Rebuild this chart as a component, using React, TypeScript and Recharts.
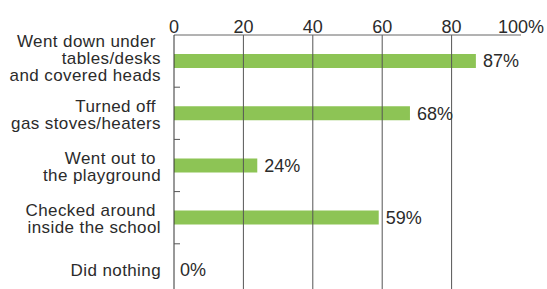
import { BarChart, Bar, XAxis, YAxis, ReferenceLine, ReferenceDot, LabelList } from "recharts";

const categories = [
  ["Went down under ", "tables/desks", "and covered heads"],
  ["Turned off ", "gas stoves/heaters"],
  ["Went out to ", "the playground"],
  ["Checked around ", "inside the school"],
  ["Did nothing"],
];
const values = [87, 68, 24, 59, 0];
const xTicks = [0, 20, 40, 60, 80, 100];
const gridLines = [20, 40, 60, 80];

const data = categories.map((lines, i) => ({ name: lines.join("|"), value: values[i] }));

const FONT = "'Liberation Sans', Arial, sans-serif";
const TEXT = "#2b2b2b";
const AXIS_X = 174;
const BAND = 52.2;
const LINE_H = 17;

function CategoryTick(props: any) {
  const { y, payload, index } = props;
  const lines: string[] = String(payload.value).split("|");
  const shift = lines.length === 3 ? -3.5 : lines.length === 2 ? 1 : 0;
  const top = y + shift - ((lines.length - 1) * LINE_H) / 2;
  return (
    <g>
      {lines.map((t, i) => (
        <text
          key={i}
          x={AXIS_X - 13}
          y={top + i * LINE_H + 6}
          textAnchor="end"
          fontSize={17}
          fontFamily={FONT}
          fill={TEXT}
          letterSpacing={0.4}
          style={{ whiteSpace: "pre" }}
        >
          {t}
        </text>
      ))}
      {index < categories.length - 1 && (
        <line x1={AXIS_X} x2={AXIS_X + 6} y1={y + BAND / 2} y2={y + BAND / 2} stroke="#555" />
      )}
    </g>
  );
}

export default function App() {
  return (
    <div style={{ position: "absolute", left: 0, top: 0, width: 547, height: 289, overflow: "hidden", background: "#fff" }}>
      <BarChart
        width={547}
        height={300}
        data={data}
        layout="vertical"
        margin={{ top: 0, right: 26, bottom: 4, left: 0 }}
      >
        <XAxis
          type="number"
          orientation="top"
          domain={[0, 100]}
          ticks={xTicks}
          height={35}
          tickLine={false}
          tickSize={0}
          tickMargin={2}
          axisLine={{ stroke: "#666" }}
          tick={{ fontSize: 18, fontFamily: FONT, fill: TEXT }}
          tickFormatter={(v) => (v === 100 ? "100%" : String(v))}
        />
        <YAxis
          type="category"
          dataKey="name"
          width={174}
          tickLine={false}
          axisLine={{ stroke: "#333" }}
          tick={<CategoryTick />}
          interval={0}
        />
        {gridLines.map((g) => (
          <ReferenceLine key={g} x={g} stroke="#555" />
        ))}
        <Bar dataKey="value" fill="#8dc455" barSize={14} isAnimationActive={false}>
          <LabelList
            dataKey="value"
            position="right"
            offset={7}
            formatter={(v: any) => (v ? `${v}%` : "")}
            style={{ fontSize: 18, fontFamily: FONT, fill: TEXT }}
          />
        </Bar>
        {data
          .filter((d) => d.value === 0)
          .map((d) => (
            <ReferenceDot
              key={d.name}
              x={d.value}
              y={d.name}
              r={0}
              stroke="none"
              fill="none"
              label={{
                value: `${d.value}%`,
                position: "right",
                offset: 6,
                style: { fontSize: 18, fontFamily: FONT, fill: TEXT },
              }}
            />
          ))}
      </BarChart>
    </div>
  );
}
